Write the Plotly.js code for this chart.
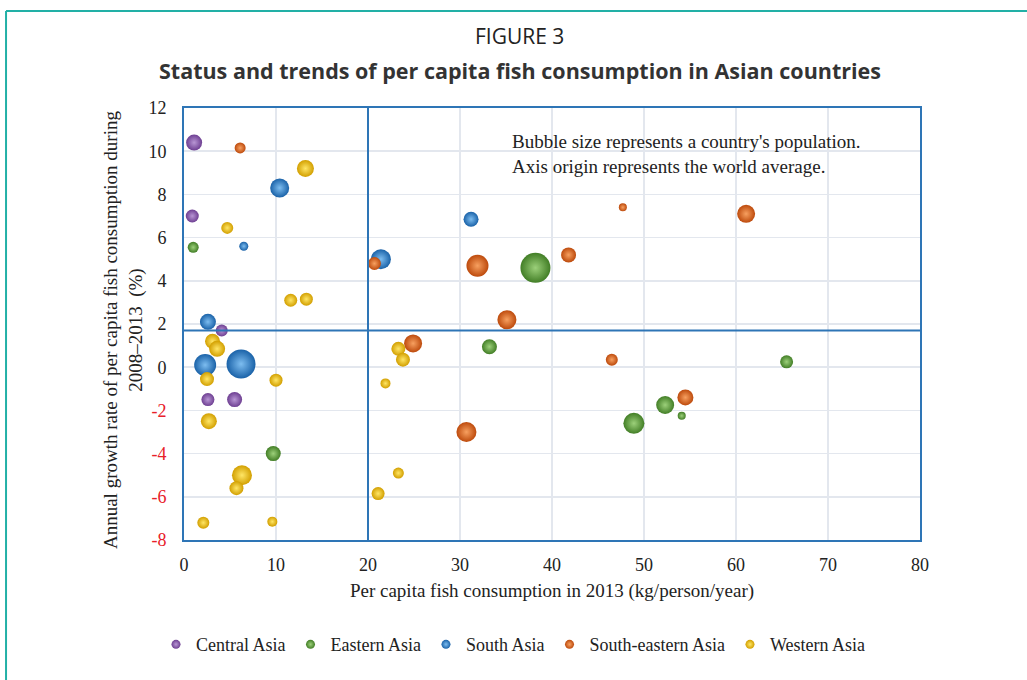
<!DOCTYPE html>
<html lang="en">
<head>
    <meta charset="UTF-8">
    <title>Figure 3</title>
    <script src="https://cdn.plot.ly/plotly-3.0.1.min.js"></script>
    <style>
        body { margin: 0; padding: 0; background: white; }
        #plot { width: 1027px; height: 680px; }
    </style>
</head>
<body>
    <div id="plot"></div>

    <script>
        const regions = ['Central Asia', 'Eastern Asia', 'South Asia', 'South-eastern Asia', 'Western Asia'];

        // per capita consumption 2013 (kg/person/year), growth 2008-2013 (%), population (bubble area)
        const consCentral = [1.1, 0.9, 4.1, 2.6, 5.5];
        const growthCentral = [10.4, 7.0, 1.7, -1.5, -1.5];
        const popCentral = [398, 263, 224, 263, 350];

        const consEastern = [1.0, 38.2, 33.2, 65.5, 48.9, 52.3, 54.1, 9.7];
        const growthEastern = [5.55, 4.6, 0.95, 0.25, -2.6, -1.75, -2.25, -4.0];
        const popEastern = [188, 1400, 350, 263, 686, 504, 100, 350];

        const consSouth = [10.4, 6.5, 31.2, 21.4, 2.6, 2.3, 6.2];
        const growthSouth = [8.3, 5.6, 6.85, 5.0, 2.1, 0.1, 0.15];
        const popSouth = [562, 126, 350, 622, 398, 753, 1308];

        const consSouthEast = [6.1, 47.7, 61.1, 41.8, 31.9, 20.7, 35.1, 24.9, 46.5, 54.5, 30.7];
        const growthSouthEast = [10.15, 7.4, 7.1, 5.2, 4.7, 4.8, 2.2, 1.1, 0.35, -1.4, -3.0];
        const popSouthEast = [188, 100, 504, 350, 753, 263, 562, 504, 224, 398, 622];

        const consWestern = [13.2, 4.7, 11.6, 13.3, 3.1, 3.6, 2.5, 10.0, 2.7, 6.3, 5.7, 2.1, 9.6, 23.3, 23.8, 21.9, 23.3, 21.1];
        const growthWestern = [9.2, 6.45, 3.1, 3.15, 1.2, 0.85, -0.55, -0.6, -2.5, -5.0, -5.6, -7.2, -7.15, 0.85, 0.35, -0.75, -4.9, -5.85];
        const popWestern = [450, 224, 263, 263, 350, 398, 305, 263, 398, 622, 305, 224, 156, 305, 305, 156, 188, 263];

        // world average (axis origin)
        const worldCons = 20;
        const worldGrowth = 1.7;

        const xTicks = [0, 10, 20, 30, 40, 50, 60, 70, 80];
        const yTicks = [-8, -6, -4, -2, 0, 2, 4, 6, 8, 10, 12];

        const edgeColors = ['#6E3F92', '#427E26', '#1A62A8', '#BD4A0C', '#D29F00'];
        const centerColors = ['#B896D4', '#9CD07A', '#7DBDF0', '#F7A060', '#FFE666'];

        const serif = 'Liberation Serif, Times New Roman, serif';

        function createPlot() {
            const xs = [consCentral, consEastern, consSouth, consSouthEast, consWestern];
            const ys = [growthCentral, growthEastern, growthSouth, growthSouthEast, growthWestern];
            const pops = [popCentral, popEastern, popSouth, popSouthEast, popWestern];
            const maxPop = Math.max(...pops.flat());

            const traces = [];
            regions.forEach((name, i) => {
                traces.push({
                    x: xs[i],
                    y: ys[i],
                    type: 'scatter',
                    mode: 'markers',
                    name: name,
                    showlegend: false,
                    marker: {
                        size: pops[i],
                        sizemode: 'area',
                        sizeref: 2 * maxPop / (30 * 30),
                        color: edgeColors[i],
                        gradient: { type: 'radial', color: centerColors[i] },
                        line: { width: 0 },
                        opacity: 1
                    }
                });
            });
            // legend-only entries with small symbols
            regions.forEach((name, i) => {
                traces.push({
                    x: [null],
                    y: [null],
                    type: 'scatter',
                    mode: 'markers',
                    name: name,
                    marker: {
                        size: 9,
                        color: edgeColors[i],
                        gradient: { type: 'radial', color: centerColors[i] },
                        line: { width: 0 }
                    }
                });
            });

            const yTickText = yTicks.map(v => v < 0
                ? '<span style="color:#E8202A">' + v + '</span>' : String(v));

            const layout = {
                width: 1027,
                height: 680,
                margin: { l: 184, r: 107, t: 108, b: 140 },
                paper_bgcolor: 'white',
                plot_bgcolor: 'white',
                font: { family: serif, size: 18, color: '#222' },
                xaxis: {
                    range: [0, 80],
                    tickvals: xTicks,
                    ticktext: xTicks.map(String),
                    tickfont: { family: serif, size: 18, color: '#222' },
                    showgrid: true,
                    gridcolor: '#E3E7EE',
                    gridwidth: 1.5,
                    zeroline: false,
                    showline: true,
                    linecolor: '#2E75B6',
                    linewidth: 2,
                    mirror: true,
                    ticks: '',
                    ticklabelstandoff: 7,
                    fixedrange: true,
                    title: {
                        text: 'Per capita fish consumption in 2013 (kg/person/year)',
                        font: { family: serif, size: 19, color: '#222' },
                        standoff: 10
                    }
                },
                yaxis: {
                    range: [-8, 12],
                    tickvals: yTicks,
                    ticktext: yTickText,
                    tickfont: { family: serif, size: 18, color: '#222' },
                    showgrid: true,
                    gridcolor: '#E3E7EE',
                    gridwidth: 1.5,
                    zeroline: false,
                    showline: true,
                    linecolor: '#2E75B6',
                    linewidth: 2,
                    mirror: true,
                    ticks: '',
                    ticklabelstandoff: 12,
                    fixedrange: true
                },
                shapes: [
                    { type: 'line', xref: 'x', yref: 'paper', x0: worldCons, x1: worldCons, y0: 0, y1: 1,
                      line: { color: '#2E75B6', width: 2 } },
                    { type: 'line', xref: 'paper', yref: 'y', x0: 0, x1: 1, y0: worldGrowth, y1: worldGrowth,
                      line: { color: '#2E75B6', width: 2 } },
                    // figure frame
                    { type: 'line', xref: 'paper', yref: 'paper', x0: -0.2418, x1: 1.2, y0: 1.2245, y1: 1.2245,
                      line: { color: '#22B0A6', width: 2 } },
                    { type: 'line', xref: 'paper', yref: 'paper', x0: -0.2418, x1: -0.2418, y0: 1.2245, y1: -0.4,
                      line: { color: '#22B0A6', width: 2 } }
                ],
                annotations: [
                    { text: 'FIGURE 3', xref: 'paper', yref: 'paper', x: 0.4565, y: 1.1675,
                      showarrow: false, xanchor: 'center', yanchor: 'middle',
                      font: { family: 'Open Sans, sans-serif', size: 21, color: '#222' } },
                    { text: '<b>Status and trends of per capita fish consumption in Asian countries</b>',
                      xref: 'paper', yref: 'paper', x: 0.4565, y: 1.0865,
                      showarrow: false, xanchor: 'center', yanchor: 'middle',
                      font: { family: 'Open Sans, sans-serif', size: 21.5, color: '#333' } },
                    { text: "Bubble size represents a country's population.<br>Axis origin represents the world average.",
                      xref: 'x', yref: 'y', x: 35.4, y: 9.87, xanchor: 'left', yanchor: 'middle',
                      align: 'left', showarrow: false,
                      font: { family: serif, size: 19, color: '#222' } },
                    // y axis title
                    { text: 'Annual growth rate of per capita fish consumption during<br>2008\u20132013  (%)',
                      xref: 'paper', yref: 'paper', x: -0.0829, y: 0.486,
                      xanchor: 'center', yanchor: 'middle', textangle: -90,
                      showarrow: false, align: 'center',
                      font: { family: serif, size: 19, color: '#222' } }
                ],
                showlegend: true,
                legend: {
                    orientation: 'h',
                    xref: 'container',
                    yref: 'container',
                    x: 0.5,
                    xanchor: 'center',
                    y: 0.052,
                    yanchor: 'middle',
                    font: { family: serif, size: 18, color: '#222' },
                    itemwidth: 30,
                    bgcolor: 'rgba(0,0,0,0)'
                }
            };

            const config = {
                responsive: false,
                displayModeBar: false,
                staticPlot: true
            };

            Plotly.newPlot('plot', traces, layout, config);
        }

        createPlot();
    </script>
</body>
</html>
